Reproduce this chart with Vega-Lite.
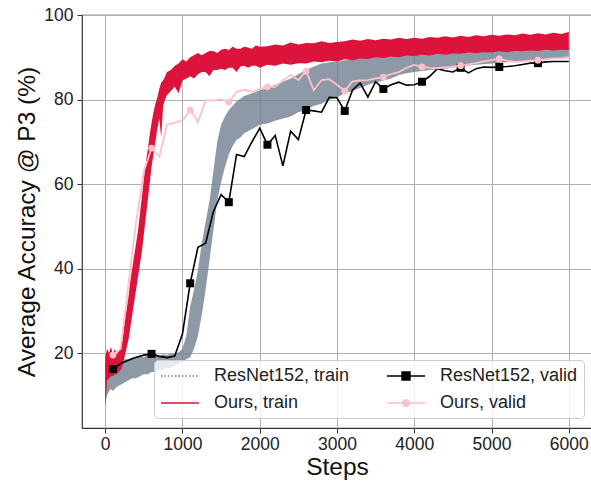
{
 "$schema": "https://vega.github.io/schema/vega-lite/v6.json",
 "width": 510, "height": 413,
 "autosize": {"type": "none"},
 "padding": {"left": 82, "top": 15, "right": 0, "bottom": 54},
 "background": "white",
 "datasets": {
  "train": [
   {"s":"ResNet152, train","x":0,"y":8,"hi":17},{"s":"ResNet152, train","x":25,"y":10,"hi":18},{"s":"ResNet152, train","x":50,"y":11,"hi":17.5},{"s":"ResNet152, train","x":75,"y":11.5,"hi":18.5},{"s":"ResNet152, train","x":100,"y":11,"hi":18},{"s":"ResNet152, train","x":150,"y":12,"hi":18.5},{"s":"ResNet152, train","x":200,"y":12.5,"hi":18},{"s":"ResNet152, train","x":250,"y":13,"hi":18.5},{"s":"ResNet152, train","x":300,"y":13.5,"hi":18.5},{"s":"ResNet152, train","x":350,"y":14,"hi":19},{"s":"ResNet152, train","x":400,"y":14,"hi":18.8},{"s":"ResNet152, train","x":450,"y":14.5,"hi":19.2},{"s":"ResNet152, train","x":500,"y":15,"hi":19},{"s":"ResNet152, train","x":550,"y":15,"hi":19.5},{"s":"ResNet152, train","x":600,"y":15.5,"hi":19.3},{"s":"ResNet152, train","x":650,"y":15.5,"hi":19.6},{"s":"ResNet152, train","x":700,"y":16,"hi":19.4},{"s":"ResNet152, train","x":750,"y":16,"hi":19.7},{"s":"ResNet152, train","x":800,"y":16.5,"hi":19.5},{"s":"ResNet152, train","x":850,"y":16.5,"hi":19.8},{"s":"ResNet152, train","x":900,"y":17,"hi":19.8},{"s":"ResNet152, train","x":950,"y":17.5,"hi":20.2},{"s":"ResNet152, train","x":1000,"y":18,"hi":21},{"s":"ResNet152, train","x":1050,"y":18.5,"hi":24},{"s":"ResNet152, train","x":1100,"y":19,"hi":31},{"s":"ResNet152, train","x":1150,"y":21,"hi":35},{"s":"ResNet152, train","x":1200,"y":24,"hi":39.5},{"s":"ResNet152, train","x":1250,"y":29,"hi":46},{"s":"ResNet152, train","x":1300,"y":35,"hi":51},{"s":"ResNet152, train","x":1350,"y":42,"hi":56},{"s":"ResNet152, train","x":1400,"y":49,"hi":63},{"s":"ResNet152, train","x":1450,"y":56,"hi":70},{"s":"ResNet152, train","x":1500,"y":60.5,"hi":74},{"s":"ResNet152, train","x":1550,"y":64,"hi":76},{"s":"ResNet152, train","x":1600,"y":67,"hi":77.5},{"s":"ResNet152, train","x":1650,"y":69,"hi":78.5},{"s":"ResNet152, train","x":1700,"y":70.5,"hi":79.5},{"s":"ResNet152, train","x":1750,"y":71,"hi":80.2},{"s":"ResNet152, train","x":1800,"y":72,"hi":80.8},{"s":"ResNet152, train","x":1900,"y":73,"hi":81.5},{"s":"ResNet152, train","x":2000,"y":74,"hi":82.2},{"s":"ResNet152, train","x":2100,"y":74.3,"hi":82.8},{"s":"ResNet152, train","x":2200,"y":75,"hi":83.5},{"s":"ResNet152, train","x":2300,"y":75.5,"hi":84.2},{"s":"ResNet152, train","x":2400,"y":76,"hi":85},{"s":"ResNet152, train","x":2500,"y":77,"hi":86},{"s":"ResNet152, train","x":2600,"y":77.5,"hi":87},{"s":"ResNet152, train","x":2700,"y":78.5,"hi":87.8},{"s":"ResNet152, train","x":2800,"y":79,"hi":88.5},{"s":"ResNet152, train","x":2900,"y":80,"hi":88.8},{"s":"ResNet152, train","x":3000,"y":80.5,"hi":89},{"s":"ResNet152, train","x":3100,"y":81.5,"hi":89.3},{"s":"ResNet152, train","x":3200,"y":82,"hi":89.5},{"s":"ResNet152, train","x":3300,"y":82.8,"hi":89.8},{"s":"ResNet152, train","x":3400,"y":83.5,"hi":90},{"s":"ResNet152, train","x":3500,"y":84,"hi":90.3},{"s":"ResNet152, train","x":3600,"y":84.5,"hi":90.5},{"s":"ResNet152, train","x":3700,"y":85,"hi":90.7},{"s":"ResNet152, train","x":3800,"y":85.8,"hi":90.9},{"s":"ResNet152, train","x":3900,"y":86.2,"hi":91},{"s":"ResNet152, train","x":4000,"y":86.5,"hi":91.2},{"s":"ResNet152, train","x":4200,"y":87,"hi":91.4},{"s":"ResNet152, train","x":4400,"y":87.3,"hi":91.6},{"s":"ResNet152, train","x":4600,"y":87.8,"hi":91.8},{"s":"ResNet152, train","x":4800,"y":88.2,"hi":92},{"s":"ResNet152, train","x":5000,"y":88.5,"hi":92.2},{"s":"ResNet152, train","x":5200,"y":88.8,"hi":92.3},{"s":"ResNet152, train","x":5400,"y":89,"hi":92.4},{"s":"ResNet152, train","x":5600,"y":89.4,"hi":92.4},{"s":"ResNet152, train","x":5800,"y":89.6,"hi":92.5},{"s":"ResNet152, train","x":6000,"y":89.8,"hi":92.5},
   {"s":"Ours, train","x":0,"y":7,"hi":19},{"s":"Ours, train","x":25,"y":13.5,"hi":21},{"s":"Ours, train","x":50,"y":14,"hi":20},{"s":"Ours, train","x":75,"y":14.5,"hi":21.5},{"s":"Ours, train","x":100,"y":14.5,"hi":19.5},{"s":"Ours, train","x":125,"y":15,"hi":21},{"s":"Ours, train","x":150,"y":15,"hi":19.5},{"s":"Ours, train","x":175,"y":15.5,"hi":20.5},{"s":"Ours, train","x":200,"y":16,"hi":21},{"s":"Ours, train","x":225,"y":17,"hi":23},{"s":"Ours, train","x":250,"y":19,"hi":27},{"s":"Ours, train","x":275,"y":21,"hi":30},{"s":"Ours, train","x":300,"y":23,"hi":33},{"s":"Ours, train","x":325,"y":26,"hi":37},{"s":"Ours, train","x":350,"y":29,"hi":40},{"s":"Ours, train","x":375,"y":32,"hi":43},{"s":"Ours, train","x":400,"y":35,"hi":46},{"s":"Ours, train","x":425,"y":38,"hi":49},{"s":"Ours, train","x":450,"y":41,"hi":53},{"s":"Ours, train","x":475,"y":44,"hi":57},{"s":"Ours, train","x":500,"y":48,"hi":61},{"s":"Ours, train","x":525,"y":52,"hi":65},{"s":"Ours, train","x":550,"y":56,"hi":68},{"s":"Ours, train","x":575,"y":60,"hi":71.5},{"s":"Ours, train","x":600,"y":64,"hi":74.5},{"s":"Ours, train","x":625,"y":67,"hi":77},{"s":"Ours, train","x":650,"y":70,"hi":79},{"s":"Ours, train","x":675,"y":73,"hi":80.5},{"s":"Ours, train","x":700,"y":75.5,"hi":82.5},{"s":"Ours, train","x":725,"y":71,"hi":84},{"s":"Ours, train","x":750,"y":78.5,"hi":84.5},{"s":"Ours, train","x":775,"y":80,"hi":85.5},{"s":"Ours, train","x":800,"y":81,"hi":86.5},{"s":"Ours, train","x":850,"y":82,"hi":87},{"s":"Ours, train","x":900,"y":83,"hi":88},{"s":"Ours, train","x":950,"y":81.5,"hi":88.5},{"s":"Ours, train","x":1000,"y":84.5,"hi":89.5},{"s":"Ours, train","x":1050,"y":85,"hi":89},{"s":"Ours, train","x":1100,"y":85.5,"hi":90},{"s":"Ours, train","x":1150,"y":85,"hi":90.5},{"s":"Ours, train","x":1200,"y":86,"hi":91},{"s":"Ours, train","x":1250,"y":86.5,"hi":90.5},{"s":"Ours, train","x":1300,"y":86.5,"hi":91},{"s":"Ours, train","x":1350,"y":85.5,"hi":91.5},{"s":"Ours, train","x":1400,"y":87,"hi":91.5},{"s":"Ours, train","x":1450,"y":87,"hi":91},{"s":"Ours, train","x":1500,"y":87.3,"hi":91.8},{"s":"Ours, train","x":1550,"y":87,"hi":92},{"s":"Ours, train","x":1600,"y":87.5,"hi":91.7},{"s":"Ours, train","x":1650,"y":87.5,"hi":92.5},{"s":"Ours, train","x":1700,"y":86.5,"hi":92},{"s":"Ours, train","x":1750,"y":87.8,"hi":92},{"s":"Ours, train","x":1800,"y":88,"hi":92.5},{"s":"Ours, train","x":1850,"y":87.5,"hi":92.3},{"s":"Ours, train","x":1900,"y":88,"hi":92},{"s":"Ours, train","x":1950,"y":88,"hi":92.8},{"s":"Ours, train","x":2000,"y":87.5,"hi":92.5},{"s":"Ours, train","x":2100,"y":88.2,"hi":92.6},{"s":"Ours, train","x":2200,"y":88,"hi":93},{"s":"Ours, train","x":2300,"y":88.5,"hi":92.8},{"s":"Ours, train","x":2400,"y":88.2,"hi":93.5},{"s":"Ours, train","x":2500,"y":88.6,"hi":93},{"s":"Ours, train","x":2600,"y":88.5,"hi":93.4},{"s":"Ours, train","x":2700,"y":89,"hi":93.3},{"s":"Ours, train","x":2800,"y":88.8,"hi":93.8},{"s":"Ours, train","x":2900,"y":89.2,"hi":93.4},{"s":"Ours, train","x":3000,"y":89,"hi":93.6},{"s":"Ours, train","x":3100,"y":89.5,"hi":93.8},{"s":"Ours, train","x":3200,"y":89.3,"hi":94.2},{"s":"Ours, train","x":3300,"y":89.7,"hi":93.9},{"s":"Ours, train","x":3400,"y":89.6,"hi":94.3},{"s":"Ours, train","x":3500,"y":90,"hi":94},{"s":"Ours, train","x":3600,"y":89.8,"hi":94.4},{"s":"Ours, train","x":3700,"y":90.2,"hi":94.2},{"s":"Ours, train","x":3800,"y":90,"hi":94.6},{"s":"Ours, train","x":3900,"y":90.4,"hi":94.3},{"s":"Ours, train","x":4000,"y":90.3,"hi":94.6},{"s":"Ours, train","x":4100,"y":90.6,"hi":94.4},{"s":"Ours, train","x":4200,"y":90.4,"hi":94.8},{"s":"Ours, train","x":4300,"y":90.8,"hi":94.6},{"s":"Ours, train","x":4400,"y":90.6,"hi":95},{"s":"Ours, train","x":4500,"y":90.9,"hi":94.7},{"s":"Ours, train","x":4600,"y":90.8,"hi":95.1},{"s":"Ours, train","x":4700,"y":91.1,"hi":94.8},{"s":"Ours, train","x":4800,"y":91,"hi":95.2},{"s":"Ours, train","x":4900,"y":91.2,"hi":95},{"s":"Ours, train","x":5000,"y":91.1,"hi":95.3},{"s":"Ours, train","x":5100,"y":91.4,"hi":95.1},{"s":"Ours, train","x":5200,"y":91.2,"hi":95.4},{"s":"Ours, train","x":5300,"y":91.5,"hi":95.2},{"s":"Ours, train","x":5400,"y":91.4,"hi":95.6},{"s":"Ours, train","x":5500,"y":91.6,"hi":95.3},{"s":"Ours, train","x":5600,"y":91.5,"hi":95.7},{"s":"Ours, train","x":5700,"y":91.8,"hi":95.4},{"s":"Ours, train","x":5800,"y":91.6,"hi":95.8},{"s":"Ours, train","x":5900,"y":91.8,"hi":95.5},{"s":"Ours, train","x":6000,"y":91.7,"hi":96}
  ],
  "valid": [
   {"s":"ResNet152, valid","x":100,"y":16.2},{"s":"ResNet152, valid","x":200,"y":17.5},{"s":"ResNet152, valid","x":300,"y":18.3},{"s":"ResNet152, valid","x":400,"y":19},{"s":"ResNet152, valid","x":500,"y":19.5},{"s":"ResNet152, valid","x":600,"y":19.8},{"s":"ResNet152, valid","x":700,"y":19.2},{"s":"ResNet152, valid","x":800,"y":18.9},{"s":"ResNet152, valid","x":900,"y":19.3},{"s":"ResNet152, valid","x":1000,"y":24.5},{"s":"ResNet152, valid","x":1100,"y":36.5},{"s":"ResNet152, valid","x":1200,"y":45},{"s":"ResNet152, valid","x":1300,"y":46},{"s":"ResNet152, valid","x":1400,"y":53.5},{"s":"ResNet152, valid","x":1500,"y":57.5},{"s":"ResNet152, valid","x":1600,"y":55.7},{"s":"ResNet152, valid","x":1700,"y":67},{"s":"ResNet152, valid","x":1800,"y":66.5},{"s":"ResNet152, valid","x":1900,"y":70},{"s":"ResNet152, valid","x":2000,"y":73.2},{"s":"ResNet152, valid","x":2100,"y":69.3},{"s":"ResNet152, valid","x":2200,"y":71.5},{"s":"ResNet152, valid","x":2300,"y":64.3},{"s":"ResNet152, valid","x":2400,"y":72.5},{"s":"ResNet152, valid","x":2500,"y":70.5},{"s":"ResNet152, valid","x":2600,"y":77.5},{"s":"ResNet152, valid","x":2700,"y":77.3},{"s":"ResNet152, valid","x":2800,"y":77},{"s":"ResNet152, valid","x":2900,"y":80.5},{"s":"ResNet152, valid","x":3000,"y":80.4},{"s":"ResNet152, valid","x":3100,"y":77.3},{"s":"ResNet152, valid","x":3200,"y":82.2},{"s":"ResNet152, valid","x":3300,"y":83.9},{"s":"ResNet152, valid","x":3400,"y":80.6},{"s":"ResNet152, valid","x":3500,"y":84.2},{"s":"ResNet152, valid","x":3600,"y":82.5},{"s":"ResNet152, valid","x":3700,"y":83.5},{"s":"ResNet152, valid","x":3800,"y":84.1},{"s":"ResNet152, valid","x":3900,"y":83.4},{"s":"ResNet152, valid","x":4000,"y":83.5},{"s":"ResNet152, valid","x":4100,"y":84.2},{"s":"ResNet152, valid","x":4200,"y":85.5},{"s":"ResNet152, valid","x":4300,"y":87.3},{"s":"ResNet152, valid","x":4400,"y":86.8},{"s":"ResNet152, valid","x":4500,"y":86.5},{"s":"ResNet152, valid","x":4600,"y":87.5},{"s":"ResNet152, valid","x":4700,"y":86.3},{"s":"ResNet152, valid","x":4800,"y":87.3},{"s":"ResNet152, valid","x":4900,"y":87.7},{"s":"ResNet152, valid","x":5000,"y":87.6},{"s":"ResNet152, valid","x":5100,"y":87.7},{"s":"ResNet152, valid","x":5200,"y":87.8},{"s":"ResNet152, valid","x":5300,"y":88},{"s":"ResNet152, valid","x":5400,"y":88.3},{"s":"ResNet152, valid","x":5500,"y":88.6},{"s":"ResNet152, valid","x":5600,"y":88.6},{"s":"ResNet152, valid","x":5700,"y":88.9},{"s":"ResNet152, valid","x":5800,"y":89},{"s":"ResNet152, valid","x":5900,"y":89},{"s":"ResNet152, valid","x":6000,"y":89},
   {"s":"Ours, valid","x":100,"y":19.5},{"s":"Ours, valid","x":200,"y":21},{"s":"Ours, valid","x":300,"y":36},{"s":"Ours, valid","x":400,"y":51},{"s":"Ours, valid","x":500,"y":63},{"s":"Ours, valid","x":600,"y":68.5},{"s":"Ours, valid","x":700,"y":66.5},{"s":"Ours, valid","x":800,"y":74},{"s":"Ours, valid","x":900,"y":74.5},{"s":"Ours, valid","x":1000,"y":75},{"s":"Ours, valid","x":1100,"y":77.5},{"s":"Ours, valid","x":1200,"y":74.7},{"s":"Ours, valid","x":1300,"y":79.8},{"s":"Ours, valid","x":1400,"y":79.8},{"s":"Ours, valid","x":1500,"y":80},{"s":"Ours, valid","x":1600,"y":79.4},{"s":"Ours, valid","x":1700,"y":81.8},{"s":"Ours, valid","x":1800,"y":82.3},{"s":"Ours, valid","x":1900,"y":81.8},{"s":"Ours, valid","x":2000,"y":82.5},{"s":"Ours, valid","x":2100,"y":83},{"s":"Ours, valid","x":2200,"y":83},{"s":"Ours, valid","x":2300,"y":84.5},{"s":"Ours, valid","x":2400,"y":85.8},{"s":"Ours, valid","x":2500,"y":84.6},{"s":"Ours, valid","x":2600,"y":86.7},{"s":"Ours, valid","x":2700,"y":82.2},{"s":"Ours, valid","x":2800,"y":84.6},{"s":"Ours, valid","x":2900,"y":84.8},{"s":"Ours, valid","x":3000,"y":83.5},{"s":"Ours, valid","x":3100,"y":82},{"s":"Ours, valid","x":3200,"y":84.3},{"s":"Ours, valid","x":3300,"y":84.5},{"s":"Ours, valid","x":3400,"y":84.6},{"s":"Ours, valid","x":3500,"y":85},{"s":"Ours, valid","x":3600,"y":85.3},{"s":"Ours, valid","x":3700,"y":86},{"s":"Ours, valid","x":3800,"y":86.5},{"s":"Ours, valid","x":3900,"y":87.5},{"s":"Ours, valid","x":4000,"y":88.2},{"s":"Ours, valid","x":4100,"y":87.7},{"s":"Ours, valid","x":4200,"y":87.5},{"s":"Ours, valid","x":4300,"y":87.4},{"s":"Ours, valid","x":4400,"y":87.6},{"s":"Ours, valid","x":4500,"y":87.8},{"s":"Ours, valid","x":4600,"y":88},{"s":"Ours, valid","x":4700,"y":88.3},{"s":"Ours, valid","x":4800,"y":88.6},{"s":"Ours, valid","x":4900,"y":89},{"s":"Ours, valid","x":5000,"y":89.3},{"s":"Ours, valid","x":5100,"y":89.6},{"s":"Ours, valid","x":5200,"y":89.2},{"s":"Ours, valid","x":5300,"y":88.9},{"s":"Ours, valid","x":5400,"y":89},{"s":"Ours, valid","x":5500,"y":89.2},{"s":"Ours, valid","x":5600,"y":89.3},{"s":"Ours, valid","x":5700,"y":89.5},{"s":"Ours, valid","x":5800,"y":89.7},{"s":"Ours, valid","x":5900,"y":89.8},{"s":"Ours, valid","x":6000,"y":90}
  ]
 },
 "config": {
  "font": "Liberation Sans",
  "view": {"stroke": "#333333", "strokeWidth": 1.2},
  "axis": {"grid": true, "gridColor": "#b0b0b0", "gridWidth": 1, "gridOpacity": 1, "domain": false, "tickColor": "#333333", "tickSize": 5, "tickWidth": 1, "labelFontSize": 17.5, "labelColor": "#222222", "labelFont": "Liberation Sans", "titleFont": "Liberation Sans", "titleFontSize": 24.5, "titleFontWeight": "normal", "titleColor": "#111111", "labelOverlap": false},
  "legend": {"fillColor": "rgba(255,255,255,0.8)", "strokeColor": "#cccccc", "cornerRadius": 4, "padding": 6,
     "labelFontSize": 18, "labelColor": "#222222", "labelFont": "Liberation Sans", "labelLimit": 400,
     "symbolSize": 324, "symbolStrokeWidth": 1.5, "symbolOpacity": 1, "labelOffset": 34, "columnPadding": 34, "rowPadding": 8}
 },
 "encoding": {
  "x": {"field": "x", "type": "quantitative", "scale": {"domain": [-300, 6300], "nice": false, "zero": false},
        "axis": {"title": "Steps", "values": [0, 1000, 2000, 3000, 4000, 5000, 6000], "format": "d", "labelPadding": 2, "titlePadding": 3, "labelFlush": false}},
  "y": {"field": "y", "type": "quantitative", "scale": {"domain": [2.25, 100], "nice": false, "zero": false},
        "axis": {"title": "Average Accuracy @ P3 (%)", "values": [20, 40, 60, 80, 100], "labelPadding": 4, "titlePadding": 4}},
  "color": {"field": "s", "type": "nominal",
   "scale": {"domain": ["ResNet152, train", "Ours, train", "ResNet152, valid", "Ours, valid"], "range": ["#708090", "#dc143c", "#000000", "#ffc0cb"]},
   "legend": {"title": null, "orient": "none", "legendX": 72, "legendY": 345, "columns": 2}}
 },
 "layer": [
  {"data": {"name": "train"}, "transform": [{"filter": "datum.s === 'ResNet152, train'"}], "mark": {"type": "area", "opacity": 0.8}, "encoding": {"y2": {"field": "hi"}}},
  {"data": {"name": "train"}, "transform": [{"filter": "datum.s === 'Ours, train'"}], "mark": {"type": "area", "opacity": 1}, "encoding": {"y2": {"field": "hi"}}},
  {"data": {"name": "valid"}, "transform": [{"filter": "datum.s === 'ResNet152, valid'"}], "mark": {"type": "line", "strokeWidth": 1.6}, "encoding": {}},
  {"data": {"name": "valid"}, "transform": [{"filter": "datum.s === 'ResNet152, valid'"}, {"filter": "(datum.x - 100) % 500 === 0"}], "mark": {"type": "square", "size": 64, "opacity": 1}, "encoding": {}},
  {"data": {"name": "valid"}, "transform": [{"filter": "datum.s === 'Ours, valid'"}], "mark": {"type": "line", "strokeWidth": 1.8}, "encoding": {}},
  {"data": {"name": "valid"}, "transform": [{"filter": "datum.s === 'Ours, valid'"}, {"filter": "(datum.x - 100) % 500 === 0"}], "mark": {"type": "circle", "size": 45, "opacity": 1}, "encoding": {}},
  {"data": {"name": "valid"}, "transform": [{"filter": "false"}], "mark": {"type": "point", "filled": true},
   "encoding": {
    "shape": {"field": "s", "type": "nominal", "scale": {"domain": ["ResNet152, train", "Ours, train", "ResNet152, valid", "Ours, valid"], "range": ["M-1,0H3.22", "M-1,0H3.22", "M-1,0H3.22M0.67,-0.44H1.55V0.44H0.67Z", "M-1,0H3.22M1.47,0A0.36,0.36,0,1,1,0.75,0A0.36,0.36,0,1,1,1.47,0Z"]}, "legend": {"title": null, "orient": "none", "legendX": 72, "legendY": 345, "columns": 2}},
    "strokeDash": {"field": "s", "type": "nominal", "scale": {"domain": ["ResNet152, train", "Ours, train", "ResNet152, valid", "Ours, valid"], "range": [[1.5, 2], [1, 0], [1, 0], [1, 0]]}, "legend": {"title": null, "orient": "none", "legendX": 72, "legendY": 345, "columns": 2}}
   }}
 ]
}
